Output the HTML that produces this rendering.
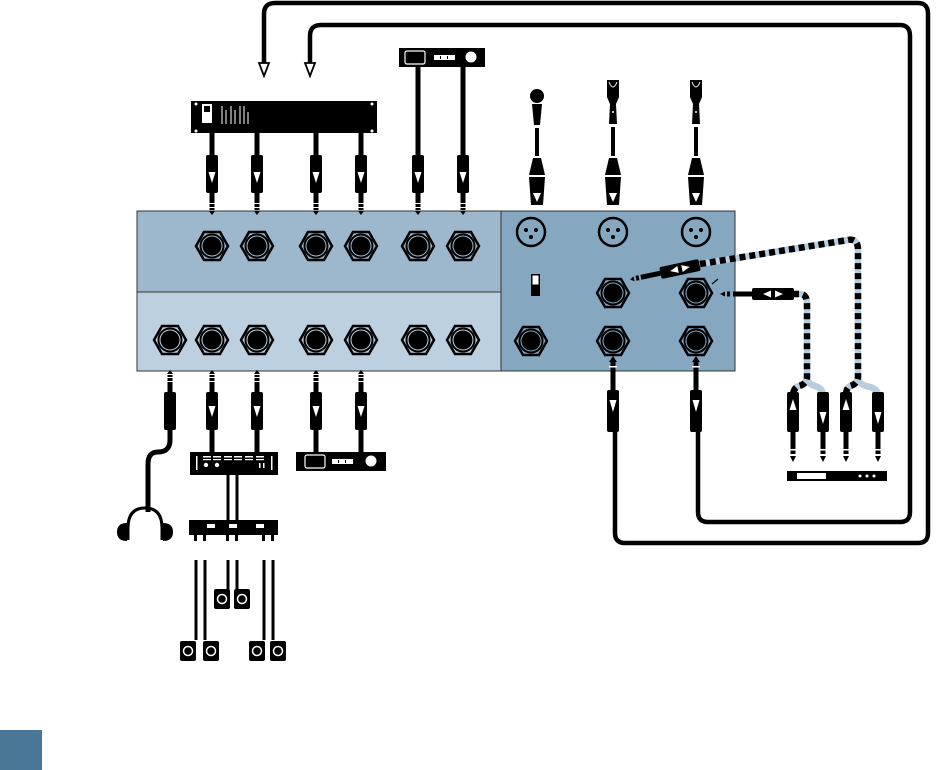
<!DOCTYPE html>
<html><head><meta charset="utf-8"><style>
html,body{margin:0;padding:0;background:#fff;width:936px;height:770px;overflow:hidden}
svg{display:block}
</style></head><body>
<svg width="936" height="770" viewBox="0 0 936 770" xmlns="http://www.w3.org/2000/svg">
<defs>
  <g id="jack">
    <polygon points="-16,0 -8,-14 8,-14 16,0 8,14 -8,14" fill="none" stroke="#000" stroke-width="2.5"/>
    <circle r="11.5" fill="none" stroke="#000" stroke-width="2"/>
    <circle r="9.5" fill="#000"/>
  </g>
  <g id="plug">
    <rect x="-6" y="0" width="12" height="38" rx="2" fill="#000"/>
    <polygon points="-3.5,17 3.5,17 0,28" fill="#fff"/>
    <rect x="-2.5" y="38" width="5" height="10" fill="#000"/>
    <rect x="-2.5" y="49" width="5" height="3" fill="#000"/>
    <rect x="-2.5" y="53" width="5" height="2" fill="#000"/>
    <polygon points="-3,56 3,56 0,60" fill="#000"/>
  </g>
  <g id="plugUp">
    <rect x="-6" y="-38" width="12" height="38" rx="2" fill="#000"/>
    <rect x="-2.5" y="-48" width="5" height="10" fill="#000"/>
    <rect x="-2.5" y="-52" width="5" height="3" fill="#000"/>
    <rect x="-2.5" y="-55" width="5" height="2" fill="#000"/>
    <polygon points="-3,-56 3,-56 0,-60" fill="#000"/>
  </g>
  <g id="xlr">
    <circle r="14" fill="none" stroke="#000" stroke-width="2.5"/>
    <circle cx="-5" cy="-2" r="2" fill="#000"/>
    <circle cx="5" cy="-2" r="2" fill="#000"/>
    <circle cx="0" cy="5" r="2" fill="#000"/>
  </g>
  <g id="spk">
    <rect x="-8" y="-10" width="16" height="20" rx="2" fill="#000"/>
    <circle r="4.5" fill="none" stroke="#fff" stroke-width="1.5"/>
  </g>
</defs>

<!-- loop cables -->
<g fill="none" stroke="#000" stroke-width="4.5">
  <path d="M264,66 L264,14 Q264,3 275,3 L918,3 Q928,3 928,14 L928,533 Q928,543 918,543 L625,543 Q615,543 615,533 L615,430"/>
  <path d="M310,66 L310,36 Q310,25 321,25 L900,25 Q910,25 910,36 L910,512 Q910,522 900,522 L708,522 Q698,522 698,512 L698,430"/>
</g>
<polygon points="259,63 269,63 264,76" fill="#fff" stroke="#000" stroke-width="1.8"/>
<polygon points="305,63 315,63 310,76" fill="#fff" stroke="#000" stroke-width="1.8"/>

<!-- panels -->
<rect x="137" y="211" width="364" height="81" fill="#9db8cc" stroke="#333" stroke-width="1"/>
<rect x="137" y="292" width="364" height="79" fill="#bdd0df" stroke="#333" stroke-width="1"/>
<rect x="501" y="211" width="234" height="160" fill="#85a7c0" stroke="#333" stroke-width="1"/>

<!-- jacks -->
<use href="#jack" x="212" y="246"/><use href="#jack" x="257" y="246"/>
<use href="#jack" x="316" y="246"/><use href="#jack" x="361" y="246"/>
<use href="#jack" x="418" y="246"/><use href="#jack" x="463" y="246"/>
<use href="#jack" x="170" y="340"/><use href="#jack" x="212" y="340"/>
<use href="#jack" x="257" y="340"/><use href="#jack" x="316" y="340"/>
<use href="#jack" x="361" y="340"/><use href="#jack" x="418" y="340"/>
<use href="#jack" x="463" y="340"/>
<use href="#xlr" x="531" y="232"/><use href="#xlr" x="613" y="232"/><use href="#xlr" x="696" y="232"/>
<use href="#jack" x="613" y="293"/><use href="#jack" x="696" y="293"/>
<use href="#jack" x="531" y="341"/><use href="#jack" x="613" y="341"/><use href="#jack" x="696" y="341"/>
<rect x="531" y="274" width="9" height="22" fill="#000"/>
<rect x="532.5" y="275.5" width="6" height="9" fill="#fff"/>
<line x1="712" y1="284" x2="718" y2="279" stroke="#000" stroke-width="1.2"/>

<!-- top rack device -->
<rect x="191" y="101" width="186" height="32" fill="#000"/>
<rect x="202" y="104" width="10" height="19" fill="#fff"/><rect x="204" y="106" width="6" height="6" fill="#000"/>
<g stroke="#fff" stroke-width="1"><line x1="222" y1="106" x2="222" y2="124"/><line x1="226" y1="110" x2="226" y2="124"/><line x1="231" y1="106" x2="231" y2="124"/><line x1="235" y1="110" x2="235" y2="124"/><line x1="240" y1="106" x2="240" y2="124"/><line x1="244" y1="106" x2="244" y2="124"/><line x1="248" y1="112" x2="248" y2="124"/></g>
<g fill="#fff"><circle cx="196" cy="104" r="1.5"/><circle cx="196" cy="131" r="1.5"/><circle cx="372" cy="104" r="1.5"/><circle cx="372" cy="131" r="1.5"/></g>

<!-- top small device -->
<rect x="399" y="48" width="86" height="19" fill="#000"/>
<rect x="405" y="51" width="20" height="13" rx="2" fill="none" stroke="#fff" stroke-width="1.2"/>
<rect x="434" y="55" width="21" height="5" fill="#fff"/><g fill="#000"><rect x="440" y="56" width="1" height="3"/><rect x="447" y="56" width="1" height="3"/></g>
<circle cx="471" cy="57" r="5.5" fill="#fff"/>

<!-- top cables and plugs -->
<g stroke="#000" stroke-width="5">
  <line x1="212" y1="133" x2="212" y2="156"/><line x1="257" y1="133" x2="257" y2="156"/>
  <line x1="316" y1="133" x2="316" y2="156"/><line x1="361" y1="133" x2="361" y2="156"/>
  <line x1="418" y1="67" x2="418" y2="156"/><line x1="463" y1="67" x2="463" y2="156"/>
</g>
<use href="#plug" x="212" y="155"/><use href="#plug" x="257" y="155"/>
<use href="#plug" x="316" y="155"/><use href="#plug" x="361" y="155"/>
<use href="#plug" x="418" y="155"/><use href="#plug" x="463" y="155"/>

<!-- mics -->
<g fill="#000">
  <circle cx="537" cy="96" r="7"/>
  <polygon points="532,104 542,104 540,125 534,125"/>
  <rect x="535" y="128" width="4" height="28"/>
  <polygon points="533,158 541,158 545,175 529,175"/>
  <polygon points="529,177 545,177 543,205 531,205"/>
  <path d="M607,80 L619,80 L619,97 L616,104 L617,124 L609,124 L610,104 L607,97 Z"/>
  <rect x="611" y="127" width="4" height="29"/>
  <polygon points="609,158 617,158 621,175 605,175"/>
  <polygon points="605,177 621,177 619,205 607,205"/>
  <path d="M690,80 L702,80 L702,97 L699,104 L700,124 L692,124 L693,104 L690,97 Z"/>
  <rect x="694" y="127" width="4" height="29"/>
  <polygon points="692,158 700,158 704,175 688,175"/>
  <polygon points="688,177 704,177 702,205 690,205"/>
</g>
<g fill="#fff">
  <path d="M609,82 Q613,92 617,82" fill="none" stroke="#fff" stroke-width="1"/>
  <path d="M692,82 Q696,92 700,82" fill="none" stroke="#fff" stroke-width="1"/>
  <circle cx="613" cy="112" r="1"/><circle cx="696" cy="112" r="1"/>
  <polygon points="533,193 541,193 537,202"/>
  <polygon points="609,193 617,193 613,202"/><polygon points="692,193 700,193 696,202"/>
</g>

<!-- bottom plugs -->
<g stroke="#000" stroke-width="5">
  <line x1="212" y1="428" x2="212" y2="452"/><line x1="257" y1="428" x2="257" y2="452"/>
  <line x1="316" y1="428" x2="316" y2="452"/><line x1="361" y1="428" x2="361" y2="452"/>
</g>
<use href="#plugUp" x="212" y="430"/><use href="#plugUp" x="257" y="430"/>
<use href="#plugUp" x="316" y="430"/><use href="#plugUp" x="361" y="430"/>
<g fill="#fff"><polygon points="208.5,406 215.5,406 212,417"/><polygon points="253.5,406 260.5,406 257,417"/><polygon points="312.5,406 319.5,406 316,417"/><polygon points="357.5,406 364.5,406 361,417"/></g>
<!-- headphone plug -->
<use href="#plugUp" x="170" y="430"/>
<path d="M170,430 L170,440 Q170,452 158,452 Q148,452 148,464 L148,512" fill="none" stroke="#000" stroke-width="5"/>
<!-- headphones -->
<path d="M128,540 L128,528 Q128,508 145,508 Q162,508 162,528 L162,540" fill="none" stroke="#000" stroke-width="3"/>
<path d="M127,523 Q117,523 117,532 Q117,541 127,541 Z" fill="#000"/>
<path d="M163,523 Q173,523 173,532 Q173,541 163,541 Z" fill="#000"/>

<!-- right bottom plugs -->
<g fill="#000">
  <rect x="610.5" y="362" width="5" height="28"/><polygon points="609,362 617,362 613,356"/>
  <rect x="607" y="390" width="12" height="42" rx="2"/>
  <rect x="693.5" y="362" width="5" height="28"/><polygon points="692,362 700,362 696,356"/>
  <rect x="690" y="390" width="12" height="42" rx="2"/>
</g>
<g fill="#fff"><rect x="609" y="366" width="8" height="1.5"/><rect x="692" y="366" width="8" height="1.5"/><polygon points="609.5,400 616.5,400 613,412"/><polygon points="692.5,400 699.5,400 696,412"/></g>

<!-- amp -->
<rect x="190" y="452" width="88" height="23" fill="#000"/>
<g fill="#fff">
  <rect x="196" y="456" width="1.5" height="14"/><rect x="271" y="456" width="1.5" height="14"/>
  <rect x="203" y="456" width="8" height="1.5"/><rect x="213" y="456" width="8" height="1.5"/><rect x="224" y="456" width="8" height="1.5"/><rect x="234" y="456" width="8" height="1.5"/><rect x="245" y="456" width="8" height="1.5"/><rect x="256" y="456" width="8" height="1.5"/>
  <rect x="203" y="459" width="8" height="1.2"/><rect x="213" y="459" width="8" height="1.2"/><rect x="224" y="459" width="8" height="1.2"/><rect x="234" y="459" width="8" height="1.2"/><rect x="245" y="459" width="8" height="1.2"/><rect x="256" y="459" width="8" height="1.2"/>
  <circle cx="206" cy="465" r="2.2"/><circle cx="217" cy="465" r="2.2"/>
  <rect x="259" y="463" width="1.5" height="5"/><rect x="263" y="463" width="1.5" height="5"/>
</g>
<!-- bottom small device -->
<rect x="296" y="452" width="90" height="19" fill="#000"/>
<rect x="305" y="455" width="20" height="13" rx="2" fill="none" stroke="#fff" stroke-width="1.2"/>
<rect x="332" y="459" width="21" height="5" fill="#fff"/><g fill="#000"><rect x="338" y="460" width="1" height="3"/><rect x="345" y="460" width="1" height="3"/></g>
<circle cx="371" cy="461" r="5.5" fill="#fff"/>
<!-- amp to crossover -->
<g stroke="#000" stroke-width="3">
  <line x1="228" y1="475" x2="228" y2="520"/><line x1="237" y1="475" x2="237" y2="520"/>
</g>
<rect x="189" y="520" width="89" height="15" fill="#000"/>
<g fill="#fff"><rect x="207" y="524" width="8" height="4"/><rect x="229" y="524" width="8" height="4"/><rect x="256" y="524" width="8" height="4"/></g>
<g fill="#000"><rect x="194" y="535" width="3" height="6"/><rect x="203" y="535" width="3" height="6"/><rect x="226" y="535" width="3" height="6"/><rect x="235" y="535" width="3" height="6"/><rect x="262" y="535" width="3" height="6"/><rect x="271" y="535" width="3" height="6"/></g>
<g stroke="#000" stroke-width="3">
  <line x1="196" y1="560" x2="196" y2="640"/><line x1="205" y1="560" x2="205" y2="640"/>
  <line x1="228" y1="560" x2="228" y2="592"/><line x1="237" y1="560" x2="237" y2="592"/>
  <line x1="264" y1="560" x2="264" y2="640"/><line x1="273" y1="560" x2="273" y2="640"/>
</g>
<use href="#spk" x="222" y="599"/><use href="#spk" x="242" y="599"/>
<use href="#spk" x="188" y="651"/><use href="#spk" x="211" y="651"/>
<use href="#spk" x="257" y="651"/><use href="#spk" x="278" y="651"/>

<!-- insert cables -->
<g fill="none" stroke-width="6.5">
  <path d="M700,264 L848,240 Q858,238 858,250 L858,376 Q858,384 866,386 Q878,388 878,396" stroke="#b8cde0"/>
  <path d="M858,376 Q858,384 850,386 Q846,388 846,396" stroke="#b8cde0"/>
  <path d="M700,264 L848,240 Q858,238 858,250 L858,376 Q858,384 850,386 Q846,388 846,396" stroke="#000" stroke-dasharray="6 4"/>
  <path d="M793,294 L800,294 Q807,294 807,304 L807,376 Q807,384 815,386 Q823,388 823,396" stroke="#b8cde0"/>
  <path d="M807,376 Q807,384 799,386 Q793,388 793,396" stroke="#b8cde0"/>
  <path d="M793,294 L800,294 Q807,294 807,304 L807,376 Q807,384 799,386 Q793,388 793,396" stroke="#000" stroke-dasharray="6 4"/>
</g>
<!-- angled plug -->
<g transform="translate(680,269) rotate(-12)">
  <rect x="-20" y="-6" width="40" height="12" rx="2" fill="#000"/>
  <polygon points="-10,0 -2,-3.5 -2,3.5" fill="#fff"/><polygon points="10,0 2,-3.5 2,3.5" fill="#fff"/>
  <rect x="-40" y="-2.5" width="20" height="5" fill="#000"/>
  <rect x="-45" y="-2.5" width="3" height="5" fill="#000"/>
  <polygon points="-47,-2.5 -47,2.5 -51,0" fill="#000"/>
</g>
<!-- straight plug -->
<rect x="752" y="288" width="42" height="12" rx="2" fill="#000"/>
<polygon points="763,294 771,290.5 771,297.5" fill="#fff"/><polygon points="783,294 775,290.5 775,297.5" fill="#fff"/>
<rect x="733" y="291.5" width="19" height="5" fill="#000"/>
<rect x="727" y="291.5" width="3" height="5" fill="#000"/>
<polygon points="725,291.5 725,296.5 720,294" fill="#000"/>

<!-- Y plugs -->
<g fill="#000">
  <rect x="787" y="392" width="12" height="40" rx="2"/><rect x="817" y="392" width="12" height="40" rx="2"/>
  <rect x="840" y="392" width="12" height="40" rx="2"/><rect x="872" y="392" width="12" height="40" rx="2"/>
  <rect x="790.5" y="432" width="5" height="22"/><rect x="820.5" y="432" width="5" height="22"/>
  <rect x="843.5" y="432" width="5" height="22"/><rect x="875.5" y="432" width="5" height="22"/>
  <polygon points="790,456 796,456 793,462"/><polygon points="820,456 826,456 823,462"/>
  <polygon points="843,456 849,456 846,462"/><polygon points="875,456 881,456 878,462"/>
</g>
<g fill="#fff">
  <polygon points="789.5,410 796.5,410 793,399"/><polygon points="819.5,412 826.5,412 823,424"/>
  <polygon points="842.5,410 849.5,410 846,399"/><polygon points="874.5,412 881.5,412 878,424"/>
  <rect x="789" y="449" width="8" height="1.5"/><rect x="819" y="449" width="8" height="1.5"/>
  <rect x="842" y="449" width="8" height="1.5"/><rect x="874" y="449" width="8" height="1.5"/>
</g>
<rect x="787" y="471" width="100" height="10" fill="#000"/>
<rect x="797" y="473" width="29" height="6" fill="#fff"/>
<g fill="#fff"><circle cx="860" cy="476" r="1.5"/><circle cx="867" cy="476" r="1.5"/><circle cx="874" cy="476" r="1.5"/></g>

<!-- corner block -->
<rect x="0" y="730" width="42" height="40" fill="#4a7698"/>
</svg>
</body></html>
